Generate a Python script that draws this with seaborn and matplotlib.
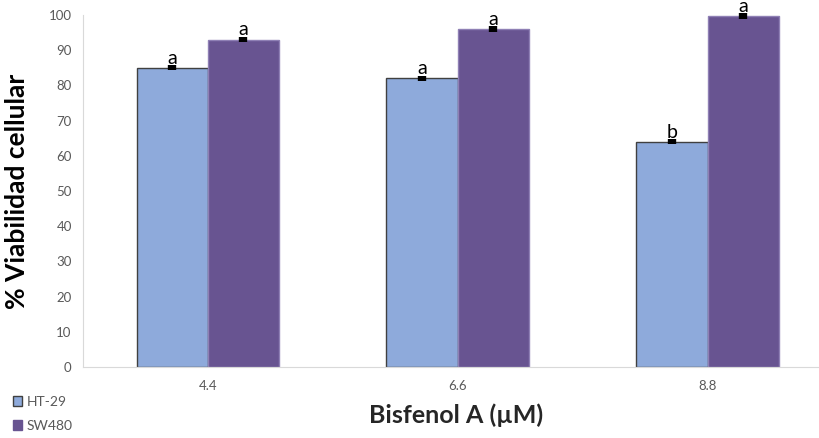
import pandas as pd
import numpy as np
import matplotlib
matplotlib.use("Agg")
import matplotlib.pyplot as plt
import seaborn as sns
from matplotlib.patches import Patch

# data
concentrations = ['4.4', '6.6', '8.8']
ht29 = [85, 82, 64]
sw480 = [93, 96, 99.7]
ht29_err = [0.7, 0.7, 0.7]
sw480_err = [0.8, 0.8, 0.8]
ht29_letters = ['a', 'a', 'b']
sw480_letters = ['a', 'a', 'a']

df = pd.DataFrame({
    'Bisfenol A': concentrations * 2,
    'Viabilidad': ht29 + sw480,
    'Linea': ['HT-29'] * 3 + ['SW480'] * 3,
})

sns.set_style('white')
plt.rcParams['font.family'] = ['Lato', 'DejaVu Sans']

fig = plt.figure(figsize=(8.2, 4.38), dpi=100)
ax = fig.add_axes([0.101, 0.162, 0.899, 0.804])

colors = {'HT-29': '#8EAADB', 'SW480': '#685491'}
sns.barplot(data=df, x='Bisfenol A', y='Viabilidad', hue='Linea',
            palette=colors, width=0.57, saturation=1, ax=ax, legend=False)

# edge colours, per series
for patch, ec in zip(ax.patches, ['#404040'] * 3 + ['#8f80b5'] * 3):
    patch.set_edgecolor(ec)
    patch.set_linewidth(1.0)

# error markers and significance letters
bw = 0.285
for i in range(3):
    for off, val, err, lab in [(-bw / 2, ht29[i], ht29_err[i], ht29_letters[i]),
                               (bw / 2, sw480[i], sw480_err[i], sw480_letters[i])]:
        ax.errorbar(i + off, val, yerr=err, fmt='none', ecolor='black',
                    elinewidth=6, capsize=0, zorder=5, clip_on=False)
        ax.text(i + off, val + 0.3, lab, ha='center', va='bottom',
                fontsize=14, color='black', zorder=6, clip_on=False)

ax.set_xlim(-0.5, 2.45)
ax.set_ylim(0, 100)
ax.set_yticks(range(0, 101, 10))
ax.tick_params(axis='both', length=0, labelsize=9.5, labelcolor='#595959')
ax.tick_params(axis='x', pad=9)
ax.tick_params(axis='y', pad=8)

for s in ['top', 'right']:
    ax.spines[s].set_visible(False)
ax.spines['left'].set_color('#D9D9D9')
ax.spines['bottom'].set_color('#D9D9D9')

ax.set_xlabel('')
ax.set_ylabel('% Viabilidad cellular', fontsize=19, fontweight='bold',
              color='black', labelpad=14)
fig.text(0.556, 0.052, 'Bisfenol A (µM)', ha='center', va='center',
         fontsize=18, fontweight='bold')

# legend, stacked at the bottom left
handles = [Patch(facecolor=colors['HT-29'], edgecolor='#404040', label='HT-29'),
           Patch(facecolor=colors['SW480'], edgecolor=colors['SW480'], label='SW480')]
fig.legend(handles=handles, loc='lower left', bbox_to_anchor=(0.0, -0.015),
           frameon=False, fontsize=10, handlelength=0.7, handleheight=0.7,
           handletextpad=0.3, labelspacing=0.9, labelcolor='#595959')

fig.savefig('out.png', dpi=100)
